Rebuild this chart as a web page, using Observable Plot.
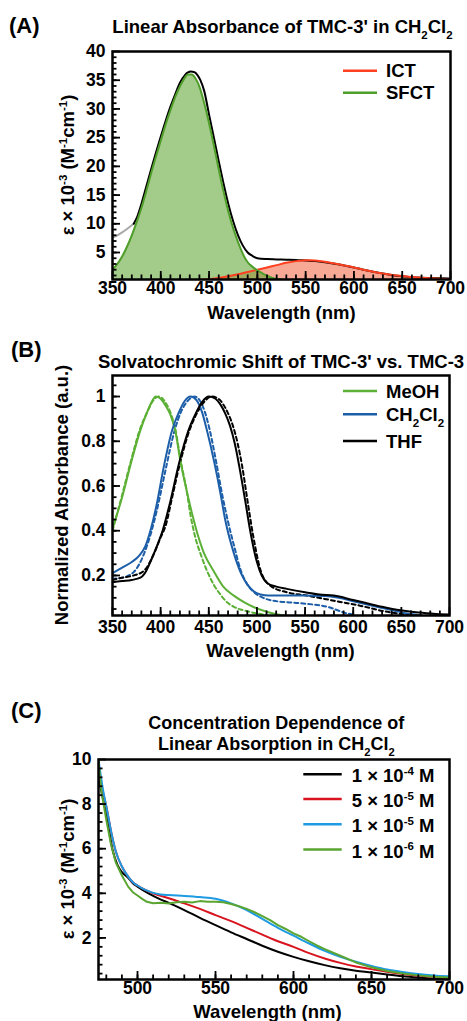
<!DOCTYPE html>
<html><head><meta charset="utf-8">
<script src="https://cdn.jsdelivr.net/npm/d3@7"></script>
<script src="https://cdn.jsdelivr.net/npm/@observablehq/plot@0.6"></script>
<style>
body{margin:0;background:#fff;}
#root{position:relative;width:467px;height:1021px;overflow:hidden;background:#fff;}
#root svg{position:absolute;left:0;}
</style></head>
<body><div id="root"></div>
<script>
// ---------- Panel A: Linear absorbance of TMC-3' in CH2Cl2 ----------
const aGrayWl = [350,355,360,365,372];
const aGrayV  = [7.6,8.0,8.5,9.1,10.0];
const aTotalWl = [372,376,380,385,390,395,400,405,410,415,420,425,431,435,438,441,445,450,455,460,465,470,475,480,485,490,495,500,510,520,530,540,550,560,570,580,590,600,610,620,630,640,650,660,670,680,690,700];
const aTotalV  = [10.0,11.4,13.5,16.5,19.5,22.4,25.2,27.9,30.4,32.6,34.6,35.9,36.5,36.4,35.9,35.0,33.1,29.0,25.0,20.9,17.0,13.4,10.4,8.0,6.2,5.0,4.4,4.0,3.85,3.8,3.75,3.7,3.6,3.5,3.3,3.05,2.75,2.4,2.0,1.65,1.35,1.05,0.85,0.7,0.6,0.55,0.5,0.45];
const aSfctWl = [350,355,360,365,370,375,380,385,390,395,400,405,410,415,420,424,428,432,436,440,445,450,455,460,465,470,475,480,486,490,495,500,505,510,517,525];
const aSfctV  = [2.0,3.0,4.3,6.0,8.0,10.3,12.8,15.7,18.8,21.7,24.5,27.3,29.8,32.1,34.0,35.2,36.0,36.0,35.3,33.9,31.0,27.5,23.6,19.5,15.6,12.1,9.2,6.8,4.4,3.3,2.5,1.9,1.4,0.95,0.5,0.3];
const aIctWl = [420,440,460,470,480,490,500,510,520,530,540,552,560,570,580,590,600,610,620,630,640,650,660,670,680,690,700];
const aIctV  = [0.05,0.2,0.55,0.85,1.2,1.6,2.0,2.4,2.8,3.2,3.5,3.65,3.6,3.4,3.1,2.75,2.4,2.0,1.65,1.35,1.1,0.9,0.75,0.6,0.5,0.42,0.35];
const aXTicks = [350,400,450,500,550,600,650,700];
const aYTicks = [5,10,15,20,25,30,35,40];

// ---------- Panel B: solvatochromic shift (solid TMC-3', dashed TMC-3) ----------
const bMeohWl = [350,360,369,379,386,390,395,400,405,410,415,421,427,433,438,445,455,465,476,487,497,507,517,528];
const bMeohV  = [0.41,0.55,0.70,0.85,0.93,0.97,1.0,0.99,0.96,0.92,0.85,0.70,0.58,0.47,0.39,0.30,0.22,0.15,0.11,0.08,0.058,0.042,0.03,0.021];
const bMeohDWl = [350,360,369,379,386,392,398,404,410,415,421,427,431,436,442,448,455,462,469,476,483,490,500,510];
const bMeohDV  = [0.40,0.56,0.71,0.86,0.93,0.98,1.0,0.98,0.93,0.86,0.71,0.58,0.47,0.37,0.29,0.222,0.16,0.115,0.08,0.06,0.048,0.04,0.03,0.024];
const bDcmWl = [350,360,370,378,384,390,396,403,412,419,425,431,437,443,448,456,462,467,476,484,490,497,504,512,530,550,570,585,600,620,640,656,670];
const bDcmV  = [0.21,0.235,0.26,0.29,0.33,0.41,0.52,0.68,0.85,0.93,0.98,1.0,0.985,0.93,0.85,0.70,0.57,0.45,0.30,0.205,0.16,0.128,0.115,0.11,0.11,0.11,0.108,0.1,0.085,0.065,0.045,0.03,0.022];
const bDcmDWl = [350,360,372,383,390,396,405,414,421,428,435,441,446,451,458,464,470,477,483,490,497,504,517,545,573,594,600];
const bDcmDV  = [0.185,0.19,0.215,0.30,0.39,0.49,0.67,0.84,0.93,0.98,1.0,0.98,0.93,0.85,0.70,0.56,0.44,0.32,0.225,0.16,0.125,0.105,0.087,0.076,0.06,0.03,0.025];
const bThfWl = [350,360,370,379,385,390,396,402,410,419,429,436,443,450,457,462,467,472,477,482,488,493,500,505,511,520,531,550,565,580,600,614,630,649,665,683,700];
const bThfV  = [0.17,0.175,0.18,0.19,0.22,0.267,0.33,0.40,0.53,0.70,0.85,0.92,0.975,1.0,0.99,0.965,0.925,0.87,0.79,0.68,0.53,0.40,0.26,0.20,0.165,0.15,0.14,0.125,0.115,0.11,0.09,0.076,0.06,0.044,0.035,0.029,0.025];
const bThfDWl = [350,360,372,383,393,400,405,412,420,430,437,445,453,460,465,470,475,480,485,490,496,504,514,531,552,580,607,632,650,660];
const bThfDV  = [0.18,0.19,0.20,0.222,0.297,0.37,0.42,0.55,0.70,0.85,0.92,0.975,1.0,0.99,0.965,0.925,0.87,0.79,0.68,0.54,0.38,0.22,0.154,0.125,0.11,0.087,0.065,0.04,0.028,0.022];
const bXTicks = [350,400,450,500,550,600,650,700];
const bYTicks = [0.2,0.4,0.6,0.8,1];
const bYLabels = ["0.2","0.4","0.6","0.8","1"];

// ---------- Panel C: concentration dependence in CH2Cl2 ----------
const cBlackWl = [475,478,480,484,487,490,494,497,500,507,515,520,530,540,550,560,570,580,590,600,610,620,630,640,650,660,670,680,690,700];
const cBlackV  = [9.2,8.2,7.6,5.95,5.3,4.95,4.7,4.45,4.3,4.0,3.72,3.57,3.25,2.9,2.57,2.25,1.95,1.65,1.38,1.15,0.95,0.78,0.64,0.53,0.45,0.36,0.28,0.22,0.17,0.13];
const cRedWl = [475,478,480,483,486,490,494,497,500,505,510,520,530,540,550,560,570,580,590,600,610,620,630,640,650,660,670,680,690,700];
const cRedV  = [9.6,8.5,7.9,6.8,5.9,5.2,4.75,4.5,4.35,4.15,4.0,3.78,3.55,3.3,3.02,2.75,2.45,2.15,1.85,1.6,1.32,1.08,0.88,0.72,0.6,0.48,0.38,0.3,0.25,0.2];
const cBlueWl = [475,478,480,483,486,490,494,497,500,505,510,515,520,530,540,550,560,570,580,590,600,610,620,630,640,650,660,670,680,690,700];
const cBlueV  = [10,8.6,7.9,6.8,5.9,5.2,4.75,4.5,4.35,4.15,4.02,3.95,3.92,3.88,3.83,3.76,3.55,3.25,2.85,2.45,2.1,1.75,1.42,1.15,0.93,0.74,0.58,0.47,0.38,0.32,0.28];
const cGreenWl = [475,477,480,483,486,490,494,497,500,503,506,510,515,520,525,530,535,540,545,550,555,560,565,570,575,580,585,590,595,600,605,610,615,620,630,640,650,660,670,680,690,700];
const cGreenV  = [9.9,8.5,7.3,6.2,5.4,4.8,4.3,4.05,3.9,3.75,3.62,3.55,3.58,3.54,3.6,3.62,3.59,3.65,3.62,3.62,3.6,3.52,3.42,3.3,3.15,2.98,2.8,2.57,2.4,2.2,2.05,1.85,1.66,1.5,1.2,0.9,0.68,0.52,0.4,0.32,0.26,0.22];
const cXTicks = [500,550,600,650,700];
const cYTicks = [2,4,6,8,10];

// ---------- helpers ----------
const FONT = "'Liberation Sans', Arial, Helvetica, sans-serif";
const zip = (wl, v) => wl.map((w, i) => ({wl: w, v: v[i]}));
const root = document.getElementById("root");

function axisMarks({xMajor, xMinor, yMajor, yMinor, xTicks, xLabels, yTicks, yLabels, plotW, plotH, xdy}) {
  const common = {stroke: "#000", strokeWidth: 1.8};
  return [
    Plot.tickX(xMinor, {x: d => d, insetTop: plotH - 4.5, ...common}),
    Plot.tickX(xMajor, {x: d => d, insetTop: plotH - 8, ...common}),
    Plot.tickY(yMinor, {y: d => d, insetRight: plotW - 4.5, ...common}),
    Plot.tickY(yMajor, {y: d => d, insetRight: plotW - 8, ...common}),
    Plot.text(xTicks, {x: d => d, text: (d, i) => xLabels ? xLabels[i] : String(d), frameAnchor: "bottom", dy: xdy, fontSize: 17.5, fontWeight: "bold", fill: "#000"}),
    Plot.text(yTicks, {y: d => d, text: (d, i) => yLabels ? yLabels[i] : String(d), frameAnchor: "left", textAnchor: "end", dx: -7, fontSize: 17.5, fontWeight: "bold", fill: "#000"}),
    Plot.frame({stroke: "#000", strokeWidth: 2.5})
  ];
}

function place(svg, top) { svg.style.top = top + "px"; root.appendChild(svg); }

// ---------- Panel A ----------
{
  const W = 467, H = 300, mt = 51, mb = 21, ml = 112, mr = 17;
  const svg = Plot.plot({
    width: W, height: H, marginTop: mt, marginBottom: mb, marginLeft: ml, marginRight: mr,
    style: {fontFamily: FONT, background: "transparent"},
    x: {domain: [350, 700], axis: null},
    y: {domain: [0.3, 40], axis: null},
    marks: [
      Plot.areaY(zip(aIctWl, aIctV), {x: "wl", y: "v", fill: "#f47b5c", fillOpacity: 0.65, curve: "monotone-x", clip: true}),
      Plot.areaY(zip(aSfctWl, aSfctV), {x: "wl", y: "v", fill: "#66a83a", fillOpacity: 0.6, curve: "monotone-x", clip: true}),
      Plot.line(zip(aGrayWl, aGrayV), {x: "wl", y: "v", stroke: "#a8a8a8", strokeWidth: 2, curve: "monotone-x", clip: true}),
      Plot.line(zip(aTotalWl, aTotalV), {x: "wl", y: "v", stroke: "#000", strokeWidth: 2, curve: "monotone-x", clip: true}),
      Plot.line(zip(aIctWl, aIctV), {x: "wl", y: "v", stroke: "#ff4020", strokeWidth: 2, curve: "monotone-x", clip: true}),
      Plot.line(zip(aSfctWl, aSfctV), {x: "wl", y: "v", stroke: "#4f9e2a", strokeWidth: 2, curve: "monotone-x", clip: true}),
      ...axisMarks({
        xMajor: aXTicks, xMinor: d3.range(360, 700, 10), yMajor: aYTicks, yMinor: d3.range(1, 40, 1),
        xTicks: aXTicks, yTicks: aYTicks, plotW: W - ml - mr, plotH: H - mt - mb, xdy: 14
      })
    ]
  });
  place(svg, 0);
}

// ---------- Panel B ----------
{
  const W = 467, H = 320, mt = 55, mb = 25, ml = 112, mr = 18;
  const dash = "4,3";
  const svg = Plot.plot({
    width: W, height: H, marginTop: mt, marginBottom: mb, marginLeft: ml, marginRight: mr,
    style: {fontFamily: FONT, background: "transparent"},
    x: {domain: [350, 700], axis: null},
    y: {domain: [0.021, 1.094], axis: null},
    marks: [
      Plot.line(zip(bMeohDWl, bMeohDV), {x: "wl", y: "v", stroke: "#5bb035", strokeWidth: 2, strokeDasharray: dash, curve: "monotone-x", clip: true}),
      Plot.line(zip(bDcmDWl, bDcmDV), {x: "wl", y: "v", stroke: "#1d5ea8", strokeWidth: 2, strokeDasharray: dash, curve: "monotone-x", clip: true}),
      Plot.line(zip(bThfDWl, bThfDV), {x: "wl", y: "v", stroke: "#000", strokeWidth: 2, strokeDasharray: dash, curve: "monotone-x", clip: true}),
      Plot.line(zip(bMeohWl, bMeohV), {x: "wl", y: "v", stroke: "#5bb035", strokeWidth: 2, curve: "monotone-x", clip: true}),
      Plot.line(zip(bDcmWl, bDcmV), {x: "wl", y: "v", stroke: "#1d5ea8", strokeWidth: 2, curve: "monotone-x", clip: true}),
      Plot.line(zip(bThfWl, bThfV), {x: "wl", y: "v", stroke: "#000", strokeWidth: 2, curve: "monotone-x", clip: true}),
      ...axisMarks({
        xMajor: bXTicks, xMinor: d3.range(360, 700, 10), yMajor: bYTicks, yMinor: d3.range(1, 22).map(i => i * 0.05),
        xTicks: bXTicks, yTicks: bYTicks, yLabels: bYLabels, plotW: W - ml - mr, plotH: H - mt - mb, xdy: 17
      })
    ]
  });
  place(svg, 320);
}

// ---------- Panel C ----------
{
  const W = 467, H = 300, mt = 59, mb = 21, ml = 98, mr = 18;
  const svg = Plot.plot({
    width: W, height: H, marginTop: mt, marginBottom: mb, marginLeft: ml, marginRight: mr,
    style: {fontFamily: FONT, background: "transparent"},
    x: {domain: [475, 700], axis: null},
    y: {domain: [0.135, 10], axis: null},
    marks: [
      Plot.line(zip(cBlackWl, cBlackV), {x: "wl", y: "v", stroke: "#000", strokeWidth: 2, curve: "monotone-x", clip: true}),
      Plot.line(zip(cRedWl, cRedV), {x: "wl", y: "v", stroke: "#d7141f", strokeWidth: 2, curve: "monotone-x", clip: true}),
      Plot.line(zip(cBlueWl, cBlueV), {x: "wl", y: "v", stroke: "#1e9be2", strokeWidth: 2, curve: "monotone-x", clip: true}),
      Plot.line(zip(cGreenWl, cGreenV), {x: "wl", y: "v", stroke: "#5aa532", strokeWidth: 2, curve: "linear", clip: true}),
      ...axisMarks({
        xMajor: cXTicks, xMinor: d3.range(480, 700, 10), yMajor: cYTicks, yMinor: d3.range(1, 25).map(i => i * 0.4),
        xTicks: cXTicks, yTicks: cYTicks, plotW: W - ml - mr, plotH: H - mt - mb, xdy: 14
      })
    ]
  });
  place(svg, 700);
}

// ---------- text overlay: titles, axis labels, legends ----------
const ov = d3.select(root).append("svg").attr("width", 467).attr("height", 1021)
  .style("top", "0px").style("pointer-events", "none")
  .attr("font-family", FONT).attr("font-weight", "bold").attr("fill", "#000");

function rich(x, y, parts, {size = 18.5, anchor = "start", rotate = 0} = {}) {
  const t = ov.append("text").attr("font-size", size).attr("text-anchor", anchor)
    .attr("transform", `translate(${x},${y}) rotate(${rotate})`);
  let shift = 0;
  for (const p of parts) {
    const [s, kind] = Array.isArray(p) ? p : [p, null];
    const target = kind === "sup" ? -0.4 * size : kind === "sub" ? 0.32 * size : 0;
    t.append("tspan").attr("dy", target - shift).attr("font-size", kind ? size * 0.62 : size).text(s);
    shift = target;
  }
  return t;
}
function legendLine(x1, x2, y, color) {
  ov.append("line").attr("x1", x1).attr("x2", x2).attr("y1", y).attr("y2", y)
    .attr("stroke", color).attr("stroke-width", 2.5);
}

const epsLabel = ["ε × 10", ["-3", "sup"], " (M", ["-1", "sup"], "cm", ["-1", "sup"], ")"];
const dcm = ["CH", ["2", "sub"], "Cl", ["2", "sub"]];

// Panel A
rich(9, 33.3, ["(A)"], {size: 22});
rich(282.5, 33.3, ["Linear Absorbance of TMC-3' in ", ...dcm], {anchor: "middle"});
rich(74, 165, epsLabel, {anchor: "middle", rotate: -90, size: 18.5});
rich(281.5, 319.3, ["Wavelength (nm)"], {anchor: "middle"});
const aLegend = [["ICT", "#ff4020"], ["SFCT", "#4f9e2a"]];
const aLegendY = [70.7, 92.7];
aLegend.forEach(([name, col], i) => { legendLine(343, 377, aLegendY[i], col); rich(386, aLegendY[i] + 6.6, [name]); });

// Panel B
rich(11, 356.7, ["(B)"], {size: 22});
rich(281, 368.3, ["Solvatochromic Shift of TMC-3' vs. TMC-3"], {anchor: "middle"});
rich(68.3, 495, ["Normalized Absorbance (a.u.)"], {anchor: "middle", rotate: -90});
rich(280.5, 657.3, ["Wavelength (nm)"], {anchor: "middle"});
const bLegend = [[["MeOH"], "#5bb035"], [dcm, "#1d5ea8"], [["THF"], "#000"]];
const bLegendY = [391, 414.3, 441];
bLegend.forEach(([parts, col], i) => { legendLine(343, 377, bLegendY[i], col); rich(386, bLegendY[i] + 6.6, parts); });

// Panel C
rich(11, 718.3, ["(C)"], {size: 22});
rich(276.3, 729, ["Concentration Dependence of"], {anchor: "middle", size: 18});
rich(276.3, 750, ["Linear Absorption in ", ...dcm], {anchor: "middle", size: 18});
rich(74, 869, epsLabel, {anchor: "middle", rotate: -90, size: 18.5});
rich(267.5, 1018.3, ["Wavelength (nm)"], {anchor: "middle"});
const cLegend = [
  [["1 × 10", ["-4", "sup"], " M"], "#000"],
  [["5 × 10", ["-5", "sup"], " M"], "#d7141f"],
  [["1 × 10", ["-5", "sup"], " M"], "#1e9be2"],
  [["1 × 10", ["-6", "sup"], " M"], "#5aa532"]
];
const cLegendY = [774.3, 799, 824.3, 849.5];
cLegend.forEach(([parts, col], i) => { legendLine(303.3, 341.7, cLegendY[i], col); rich(351.7, cLegendY[i] + 8, parts); });
</script>
</body></html>
